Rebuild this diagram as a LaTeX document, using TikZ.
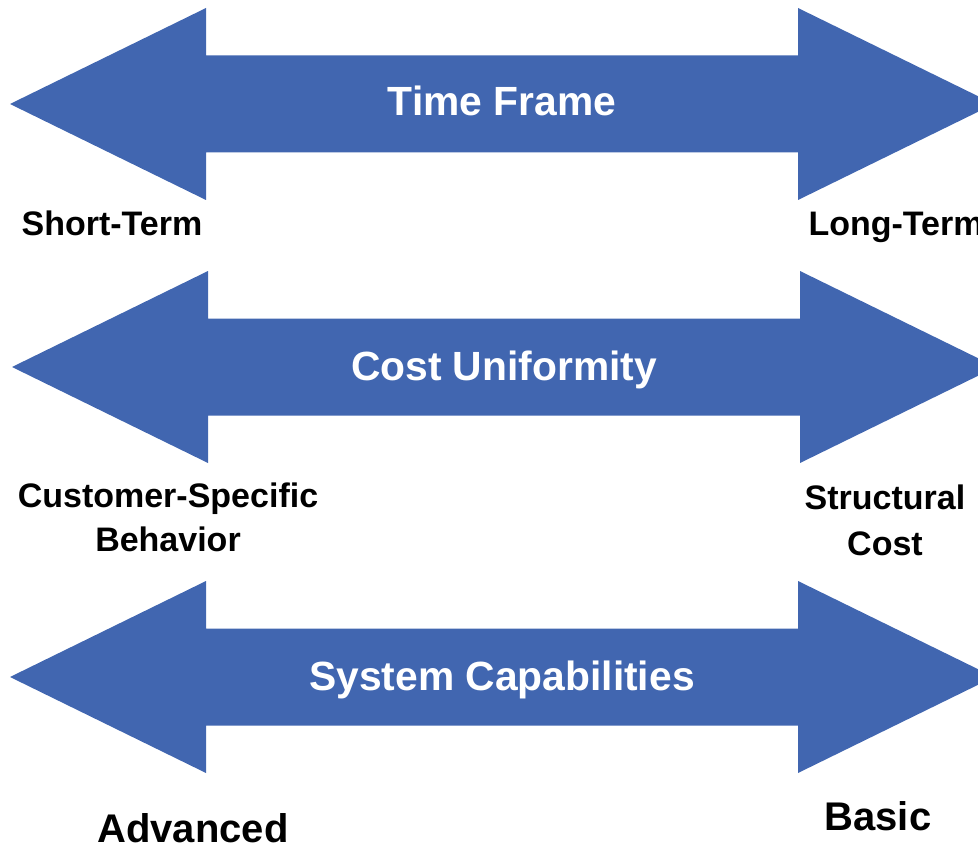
\documentclass[tikz,border=0pt]{standalone}
\usepackage{fontspec}
\setmainfont{Liberation Sans}
\begin{document}
\begin{tikzpicture}[x=1pt,y=-1pt,
  band/.style={fill={rgb,255:red,65;green,102;blue,176}, draw=none},
  title/.style={anchor=base, text=white, inner sep=0pt, font=\bfseries\fontsize{40.8}{46}\selectfont},
  side/.style={anchor=base, text=black, inner sep=0pt, align=center, font=\bfseries\fontsize{34}{#1}\selectfont},
  side/.default=44,
  big/.style={anchor=base, text=black, inner sep=0pt, font=\bfseries\fontsize{40}{46}\selectfont}]
\useasboundingbox (0,0) rectangle (978,848);
\clip (0,0) rectangle (978,848);

% double-headed arrow: centre y, left tip, left head base, right head base, right tip
\newcommand{\twoway}[5]{%
  \fill[band] (#2,#1) -- (#3,#1-96) -- (#3,#1-48.5) -- (#4,#1-48.5) -- (#4,#1-96)
    -- (#5,#1) -- (#4,#1+96) -- (#4,#1+48.5) -- (#3,#1+48.5) -- (#3,#1+96) -- cycle;}

\twoway{104}{10}{206}{798}{994}
\twoway{367}{12}{208}{800}{996}
\twoway{677}{10}{206}{798}{994}

\node[title] (time) at (502,116) {Time Frame};
\node[title] (cost) at (504,380) {Cost Uniformity};
\node[title] (sys) at (502,690) {System Capabilities};

\node[side] (short) at (112,235) {Short-Term};
\node[side] (long) at (896,235) {Long-Term};
% multi-line labels: base anchor sits on the last line
\node[side=44] (cust) at (168,551) {Customer-Specific\\Behavior};
\node[side=46] (struct) at (885,555) {Structural\\Cost};
\node[big] (adv) at (193,842) {Advanced};
\node[big] (basic) at (878,830) {Basic};
\end{tikzpicture}
\end{document}
